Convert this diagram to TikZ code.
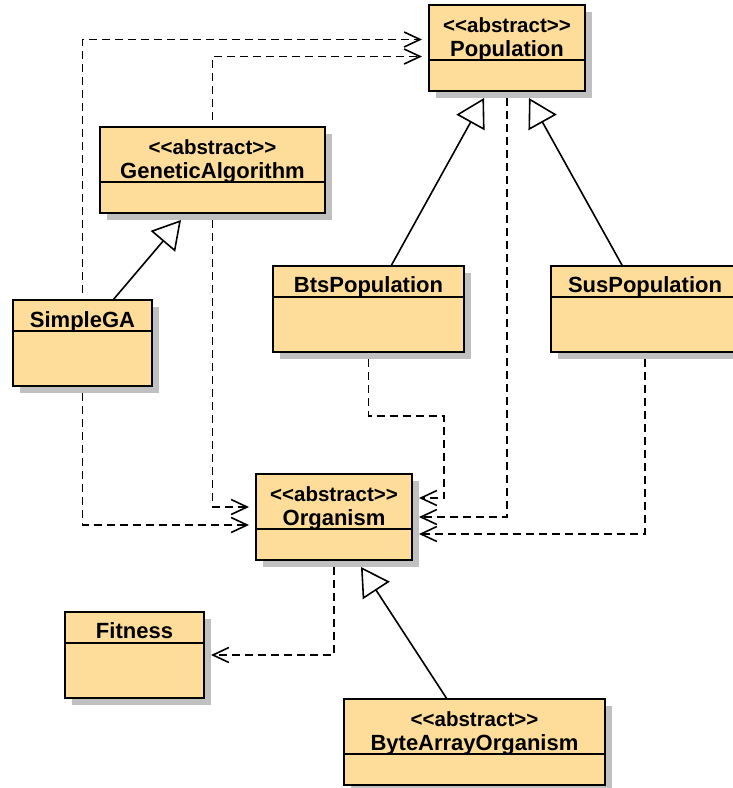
\documentclass[tikz,border=0pt]{standalone}
\usepackage{fontspec}
\setmainfont{Liberation Sans}
\usetikzlibrary{arrows.meta,shadows}
\definecolor{classfill}{HTML}{FEDC9A}
\definecolor{shadowgray}{HTML}{C0C0C0}
\tikzset{
  umlclass/.style={draw=black, line width=1.8pt, fill=classfill, anchor=north west, inner sep=0pt, outer sep=0pt,
    minimum height=86pt, minimum width=#1,
    drop shadow={shadow xshift=7pt, shadow yshift=-7pt, fill=shadowgray, opacity=1}},
  divider/.style={path picture={\draw[line width=1.3pt] ([yshift=-#1]path picture bounding box.north west) -- ([yshift=-#1]path picture bounding box.north east);}},
  stereo/.style={font=\fontsize{20.5}{22}\selectfont\bfseries, anchor=base, yshift=-27pt, inner sep=0pt},
  clsname/.style={font=\fontsize{22}{24}\selectfont\bfseries, anchor=base, yshift=-26pt, inner sep=0pt},
  dep/.style={draw, line width=1.6pt, dash pattern=on 8pt off 5pt, shorten <=7pt, shorten >=7pt,
    -{Straight Barb[length=16pt,width=15pt]}},
  gen/.style={draw, line width=1.6pt, -{Triangle[length=28pt,width=32pt,fill=white]}}
}
\begin{document}
\begin{tikzpicture}[x=1pt,y=-1pt]
\useasboundingbox (0,0) rectangle (733,788);
% classes
\node[umlclass=156pt, divider=55pt, label={[stereo]above:<{}<abstract>{}>}, label={[clsname,yshift=-25pt]above:Population}] (pop) at (429,5) {};
\node[umlclass=225pt, divider=55pt, label={[stereo]above:<{}<abstract>{}>}, label={[clsname,yshift=-25pt]above:GeneticAlgorithm}] (ga) at (100,127) {};
\node[umlclass=139pt, divider=31pt, label={[clsname,yshift=-1pt]above:SimpleGA}] (sga) at (13,300) {};
\node[umlclass=191pt, divider=31pt, label={[clsname]above:BtsPopulation}] (bts) at (273,266) {};
\node[umlclass=188pt, divider=31pt, label={[clsname]above:SusPopulation}] (sus) at (551,266) {};
\node[umlclass=156pt, divider=55pt, label={[stereo]above:<{}<abstract>{}>}, label={[clsname,yshift=-25pt]above:Organism}] (org) at (256,474) {};
\node[umlclass=139pt, divider=31pt, label={[clsname]above:Fitness}] (fit) at (65,612) {};
\node[umlclass=261pt, divider=55pt, label={[stereo]above:<{}<abstract>{}>}, label={[clsname,yshift=-25pt]above:ByteArrayOrganism}] (bao) at (344,699) {};
% dependencies
\draw[dep] (sga.north) |- ([yshift=8.5pt]pop.west);
\draw[dep] (ga.north) |- ([yshift=-8.5pt]pop.west);
\draw[dep] (ga.south) |- ([yshift=10pt]org.west);
\draw[dep] (sga.south) |- ([yshift=-8pt]org.west);
\draw[dep] (bts.south) -- ++(0,64) -| ([xshift=32pt,yshift=19pt]org.east) -- ([yshift=19pt]org.east);
\draw[dep] (pop.south) |- (org.east);
\draw[dep] (sus.south) |- ([yshift=-17pt]org.east);
\draw[dep] (org.south) |- (fit.east);
% generalizations
\draw[gen] ([xshift=30.5pt]sga.north) -- ([xshift=-31.5pt,yshift=-7pt]ga.south);
\draw[gen] ([xshift=22.5pt]bts.north) -- ([xshift=-23pt,yshift=-7pt]pop.south);
\draw[gen] ([xshift=-22.5pt]sus.north) -- ([xshift=22pt,yshift=-7pt]pop.south);
\draw[gen] ([xshift=-27.5pt]bao.north) -- ([xshift=27pt,yshift=-7pt]org.south);
\end{tikzpicture}
\end{document}
